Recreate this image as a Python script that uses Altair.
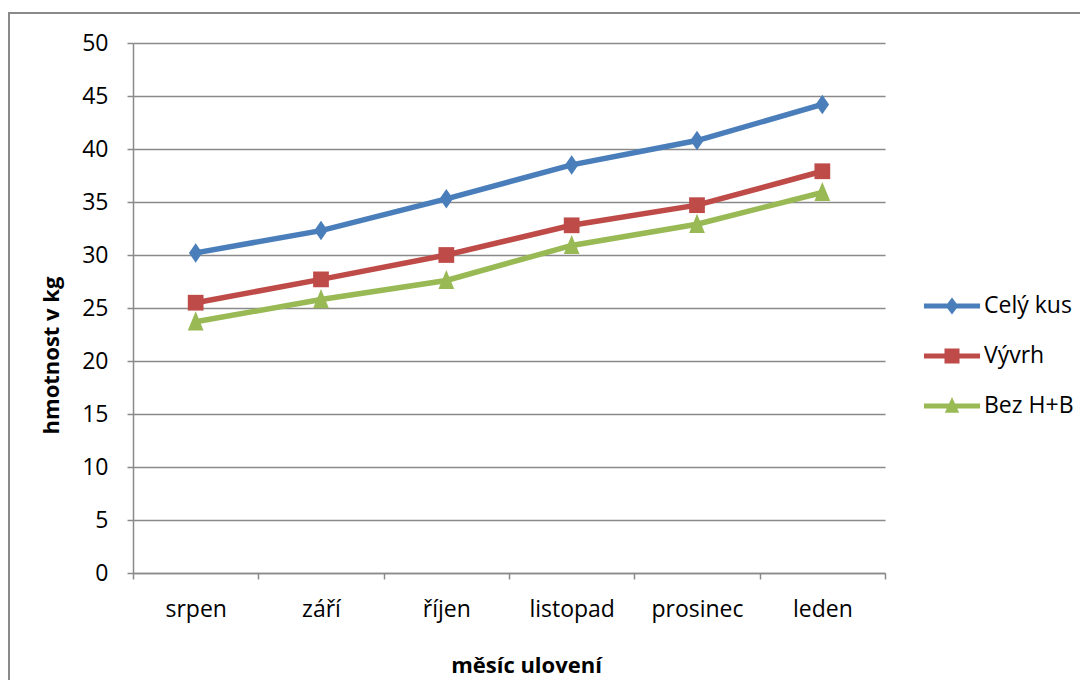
import altair as alt
import pandas as pd

months = ["srpen", "září", "říjen", "listopad", "prosinec", "leden"]
series = ["Celý kus", "Výv rh".replace(" ", ""), "Bez H+B"]
cely_kus = [30.2, 32.3, 35.3, 38.5, 40.8, 44.2]
vyvrh = [25.5, 27.7, 30.0, 32.8, 34.7, 37.9]
bez_hb = [23.7, 25.8, 27.6, 30.9, 32.9, 35.9]
y_ticks = [0, 5, 10, 15, 20, 25, 30, 35, 40, 45, 50]

colors = ["#4A7EBB", "#BE4B48", "#98B954"]
# marker paths (unit coords scaled by sqrt(size)/2)
marker_paths = [
    "M0,-1.3L0.9,0L0,1.3L-0.9,0Z",
    "M-1.05,-1.05H1.05V1.05H-1.05Z",
    "M0,-1.4L1.05,1.15L-1.05,1.15Z",
]
# legend symbols: line + marker
legend_paths = [
    "M-1.87,-0.17H1.87V0.17H-1.87Z M0,-0.57L0.43,0L0,0.57L-0.43,0Z",
    "M-1.87,-0.17H1.87V0.17H-1.87Z M-0.5,-0.5H0.5V0.5H-0.5Z",
    "M-1.87,-0.17H1.87V0.17H-1.87Z M0,-0.6L0.48,0.45L-0.48,0.45Z",
]

rows = []
for name, vals in zip(series, [cely_kus, vyvrh, bez_hb]):
    for m, v in zip(months, vals):
        rows.append({"mesic": m, "hodnota": v, "serie": name, "marker": name})
df = pd.DataFrame(rows)

FONT = "Open Sans"
W, H = 752, 530
PL, PT = 125, 35
TOTAL_W, TOTAL_H = 1072, 672

x_enc = alt.X(
    "mesic:N",
    sort=months,
    scale=alt.Scale(type="band", paddingInner=0, paddingOuter=0),
    axis=alt.Axis(
        title="měsíc ulovení",
        labelAngle=0,
        tickBand="extent",
        tickSize=6,
        labelPadding=19,
        titleX=393,
        titleY=99,
        titleBaseline="alphabetic",
        grid=False,
    ),
)
y_enc = alt.Y(
    "hodnota:Q",
    scale=alt.Scale(domain=[0, 50], nice=False, zero=True),
    axis=alt.Axis(
        title="hmotnost v kg",
        values=y_ticks,
        tickSize=6,
        labelPadding=19,
        titleX=-75,
        titleY=312,
        titleBaseline="alphabetic",
        grid=True,
    ),
)
color_scale = alt.Scale(domain=series, range=colors)

base = alt.Chart(df)

lines = base.mark_line(strokeWidth=5.5).encode(
    x=x_enc,
    y=y_enc,
    color=alt.Color("serie:N", scale=color_scale, legend=None),
    detail="serie:N",
)

points = base.mark_point(filled=True, size=225, opacity=1).encode(
    x=x_enc,
    y=y_enc,
    color=alt.Color("serie:N", scale=color_scale, legend=None),
    shape=alt.Shape("marker:N", scale=alt.Scale(domain=series, range=marker_paths), legend=None),
)

legend_layers = []
for i, (name, col, path) in enumerate(zip(series, colors, legend_paths)):
    lg = base.transform_filter(alt.datum.serie == name).mark_point(
        filled=True, size=900, opacity=0, color=col
    ).encode(
        x=x_enc,
        y=y_enc,
        shape=alt.Shape(
            "serie:N",
            scale=alt.Scale(domain=[name], range=[path]),
            legend=alt.Legend(
                title=None,
                orient="none",
                legendX=804,
                legendY=248 + 50 * i,
                symbolSize=900,
                symbolOpacity=1,
                symbolFillColor=col,
                symbolStrokeWidth=0,
                labelOffset=17,
                padding=0,
                labelFont=FONT,
                labelFontSize=23,
                labelColor="#000000",
            ),
        ),
    )
    legend_layers.append(lg)

border_df = pd.DataFrame({"k": [0]})
border = alt.Chart(border_df).mark_rect(
    fill=None, stroke="#8a8a8a", strokeWidth=2, clip=False
).encode(
    x=alt.value(-PL + 1),
    x2=alt.value(W + 400),
    y=alt.value(-30),
    y2=alt.value(H + 300),
)

chart = alt.layer(border, lines, points, *legend_layers).resolve_scale(
    shape="independent"
).properties(
    width=W,
    height=H,
    autosize=alt.AutoSizeParams(type="none"),
    padding={"left": PL, "top": PT, "right": TOTAL_W - PL - W, "bottom": TOTAL_H - PT - H},
    background="white",
).configure_view(
    stroke=None
).configure_axis(
    labelFont=FONT,
    labelFontSize=23,
    labelColor="#000000",
    titleFont=FONT,
    titleFontSize=22,
    titleFontWeight="bold",
    titleColor="#000000",
    domainColor="#8a8a8a",
    domainWidth=1.5,
    tickColor="#8a8a8a",
    tickWidth=1.5,
    gridColor="#8a8a8a",
    gridWidth=1.5,
)

chart.save("out.html", embed_options={"renderer": "svg", "actions": False})
